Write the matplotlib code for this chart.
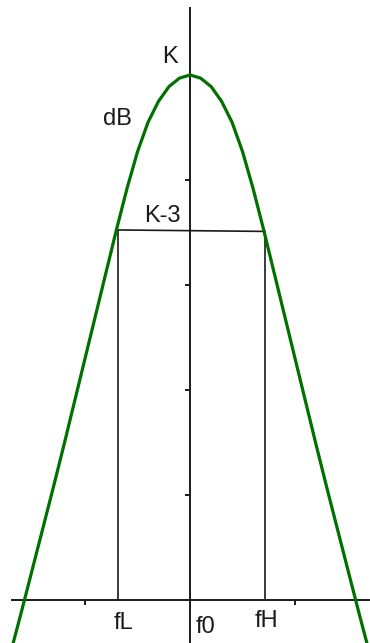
import matplotlib
matplotlib.use("Agg")
import matplotlib.pyplot as plt

# Response curve (x and y in tick units)
curve_x = [-1.75, -1.7, -1.6, -1.5, -1.4, -1.3, -1.2, -1.1, -1.0, -0.9, -0.8, -0.7,
           -0.6, -0.5, -0.4, -0.3, -0.2, -0.1, 0.0, 0.1, 0.2, 0.3, 0.4, 0.5, 0.6,
           0.7, 0.8, 0.9, 1.0, 1.1, 1.2, 1.3, 1.4, 1.5, 1.6, 1.7, 1.75]
curve_y = [-0.66, -0.47, -0.09, 0.30, 0.69, 1.08, 1.48, 1.89, 2.30, 2.71, 3.12, 3.53,
           3.92, 4.27, 4.55, 4.75, 4.89, 4.97, 5.00, 4.97, 4.89, 4.75, 4.55, 4.27, 3.92,
           3.53, 3.12, 2.71, 2.30, 1.89, 1.48, 1.08, 0.69, 0.30, -0.09, -0.47, -0.66]

# Band edges and the -3 dB level
f_low, f_high = -0.69, 0.714
level_low, level_high = 3.524, 3.51

x_ticks = [-1, 1]
y_ticks = [1, 2, 3, 4]

labels = ["K", "dB", "K-3", "fL", "f0", "fH"]
label_x = [-0.19, -0.695, -0.267, -0.638, 0.152, 0.724]
label_y = [5.114, 4.524, 3.60, -0.276, -0.314, -0.257]

green = "#007000"
black = "#1a1a1a"

plt.rcParams['font.family'] = ['Liberation Sans', 'DejaVu Sans']

fig = plt.figure(figsize=(3.70, 6.43), dpi=100)
ax = fig.add_axes([0, 0, 1, 1])
ax.set_xlim(-1.810, 1.714)
ax.set_ylim(-0.41, 5.714)

for s in ["top", "right"]:
    ax.spines[s].set_visible(False)
ax.spines["left"].set_position(("data", 0))
ax.spines["bottom"].set_position(("data", 0))
ax.spines["left"].set_bounds(-0.41, 5.638)
ax.spines["bottom"].set_bounds(-1.695, 1.714)
for s in ["left", "bottom"]:
    ax.spines[s].set_linewidth(1.4)
    ax.spines[s].set_color(black)
    ax.spines[s].set_zorder(1)

ax.set_xticks(x_ticks)
ax.set_yticks(y_ticks)
ax.set_xticklabels([])
ax.set_yticklabels([])
ax.tick_params(axis="both", direction="out", length=3.6, width=1.4, color=black)

# band rectangle
ax.plot([f_low, f_high], [level_low, level_high], color=black, lw=1.2, zorder=2)
ax.vlines([f_low, f_high], [0, 0], [level_low, level_high], color=black, lw=1.2, zorder=2)

ax.plot(curve_x, curve_y, color=green, lw=2.3, solid_joinstyle="round", zorder=3)

for t, x, y in zip(labels, label_x, label_y):
    ax.text(x, y, t, ha="center", va="baseline", fontsize=17, color=black)

fig.savefig("out.png", dpi=100)
